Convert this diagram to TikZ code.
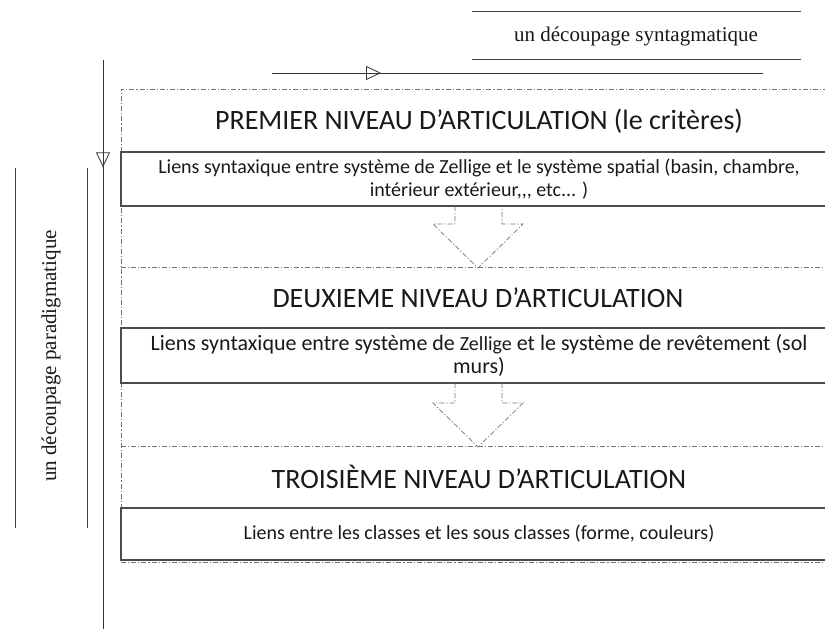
\documentclass[tikz,border=0pt]{standalone}
\usepackage{fontspec}
\setmainfont{Liberation Serif}
\newfontfamily\calfont{Carlito}
\newfontfamily\serffont{Liberation Serif}
\usetikzlibrary{arrows.meta,decorations.markings}
\begin{document}
\begin{tikzpicture}[x=1pt,y=-1pt,
  frame/.style={draw=black!55, line width=0.7pt, dash pattern=on 5pt off 2pt on 1.2pt off 2pt},
  boxline/.style={draw=black!70, line width=1.1pt},
  rule/.style={draw=black!75, line width=0.9pt},
  flow/.style={draw=black!80, line width=0.8pt},
  opentri/.style={decoration={markings, mark=at position #1 with {\arrow{Triangle[open, length=15pt, width=14pt, line width=0.8pt]}}}, postaction=decorate},
  title/.style={font=\calfont\fontsize{28}{32}\selectfont, text=black!90, inner sep=0pt},
  body/.style={font=\calfont\fontsize{20}{22.5}\selectfont, text=black!90, inner sep=0pt, align=center},
  bodylarge/.style={body, font=\calfont\fontsize{22}{23}\selectfont},
  side/.style={font=\serffont\fontsize{21}{24}\selectfont, text=black!90, inner sep=0pt}
]
\useasboundingbox (0,0) rectangle (825,629);
\clip (0,0) rectangle (825,629);

% outer dash-dot frame of the three levels
\path[frame] (121,560) -- (121,89) -- (840,89);
\path[frame] (121,267) -- (840,267);
\path[frame] (121,446) -- (840,446);
\path[frame] (121,562) -- (840,562);

% text boxes (open on the right)
\path[boxline] (840,152) -- (121,152) -- (121,206) -- (840,206);
\path[boxline] (840,328) -- (121,328) -- (121,383) -- (840,383);
\path[boxline] (840,508) -- (121,508) -- (121,560) -- (840,560);

% level titles
\node[title] (n1) at (479,121) {PREMIER NIVEAU D’ARTICULATION (le critères)};
\node[title] (n2) at (478,298) {DEUXIEME NIVEAU D’ARTICULATION};
\node[title] (n3) at (479,477) {TROISIÈME NIVEAU D’ARTICULATION};

% box contents
\node[body] (b1) at (479,179) {Liens syntaxique entre système de Zellige et le système spatial (basin, chambre,\\intérieur extérieur,,, etc... )};
\node[bodylarge] (b2) at (479,355) {Liens syntaxique entre système de {\fontsize{20}{23}\selectfont Zellige} et le système de revêtement (sol\\murs)};
\node[body] (b3) at (479,534) {Liens entre les classes et les sous classes (forme, couleurs)};

% dashed block arrows between levels
\path[frame] (455,206) -- (455,224) -- (433,224) -- (478,268) -- (523,224) -- (502,224) -- (502,206);
\path[frame] (455,383) -- (455,403) -- (433,403) -- (478,447) -- (523,403) -- (502,403) -- (502,383);

% syntagmatic axis
\draw[rule] (472,11) -- (801,11);
\node[side] (syn) at (636,36) {un découpage syntagmatique};
\draw[rule] (472,59) -- (801,59);
\coordinate (hs) at (272,73);
\coordinate (he) at (763,73);
\draw[flow, opentri=0.222] (hs) -- (he);

% paradigmatic axis
\coordinate (vs) at (103,60);
\coordinate (ve) at (103,640);
\draw[flow, opentri=0.185] (vs) -- (ve);
\draw[rule] (15,168) -- (15,528);
\draw[rule] (87,168) -- (87,528);
\node[side, rotate=90] (par) at (51,356) {un découpage paradigmatique};
\end{tikzpicture}
\end{document}
